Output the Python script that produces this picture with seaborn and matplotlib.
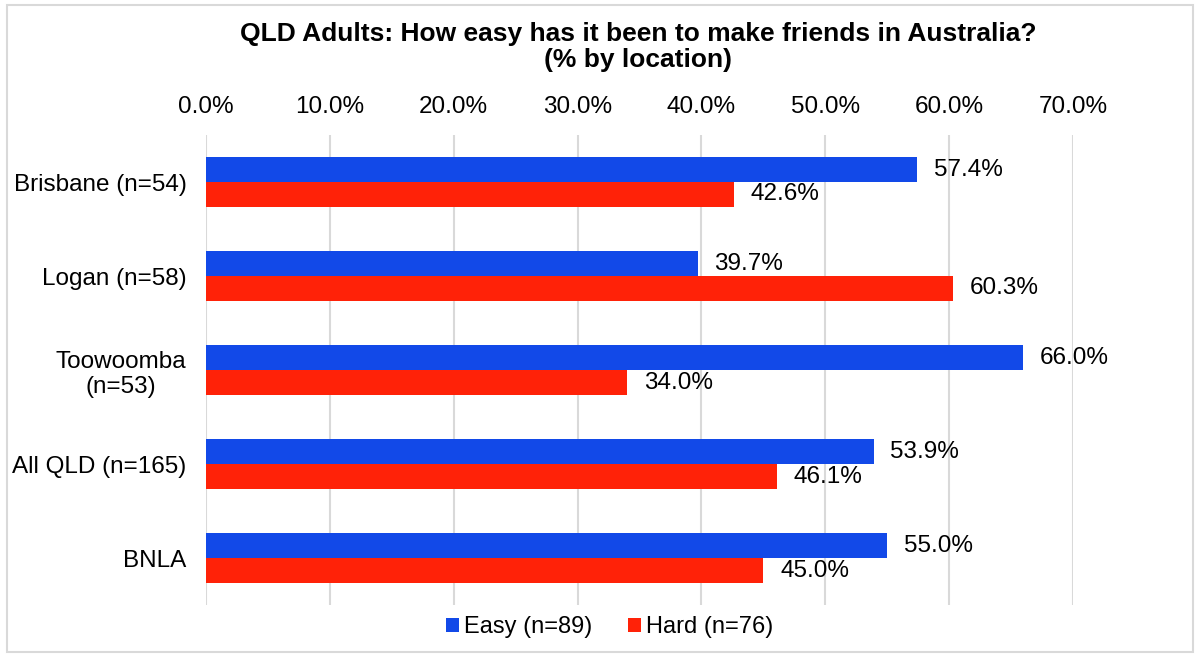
import pandas as pd
import numpy as np
import matplotlib
matplotlib.use("Agg")
import matplotlib.pyplot as plt
import seaborn as sns
from matplotlib.patches import Rectangle
from matplotlib.ticker import FuncFormatter

# Data
locations = ['Brisbane (n=54)', 'Logan (n=58)', 'Toowoomba\n(n=53)', 'All QLD (n=165)', 'BNLA']
easy = [57.4, 39.7, 66.0, 53.9, 55.0]
hard = [42.6, 60.3, 34.0, 46.1, 45.0]
series_names = ['Easy (n=89)', 'Hard (n=76)']
colors = ['#1249E8', '#FF2208']

# Long-form table for seaborn
df = pd.DataFrame({
    'location': locations * 2,
    'response': [series_names[0]] * len(locations) + [series_names[1]] * len(locations),
    'value': easy + hard,
})

sns.set_style('white')
plt.rcParams['font.family'] = ['Liberation Sans', 'DejaVu Sans']
plt.rcParams['text.color'] = 'black'
plt.rcParams['xtick.color'] = 'black'
plt.rcParams['ytick.color'] = 'black'

fig = plt.figure(figsize=(12, 6.57), dpi=100)
ax = fig.add_axes([0.1717, 0.079, 0.7225, 0.7155])

sns.barplot(data=df, x='value', y='location', hue='response', orient='h',
            palette=colors, width=0.53, order=locations, hue_order=series_names,
            ax=ax, saturation=1, edgecolor='none')

ax.set_xlim(0, 70)
ax.set_xticks(np.arange(0, 71, 10))
ax.xaxis.set_major_formatter(FuncFormatter(lambda v, p: f'{v:.1f}%'))
ax.xaxis.tick_top()
ax.tick_params(axis='x', length=0, labelsize=17.5, pad=12)
ax.tick_params(axis='y', length=0, labelsize=17.5, pad=14)
for lbl in ax.get_yticklabels():
    lbl.set_multialignment('center')
ax.grid(axis='x', color='#D9D9D9', linewidth=1.5)
ax.set_axisbelow(True)
for s in ax.spines.values():
    s.set_visible(False)
ax.set_xlabel('')
ax.set_ylabel('')

# value labels
for cont in ax.containers:
    ax.bar_label(cont, labels=[f'{v:.1f}%' for v in cont.datavalues],
                 padding=12, fontsize=17.5)

# legend at bottom
handles, labels = ax.get_legend_handles_labels()
ax.legend_.remove()
fig.legend(handles, labels, loc='center', bbox_to_anchor=(0.508, 0.045), ncol=2,
           frameon=False, fontsize=17, handlelength=0.55, handleheight=0.55,
           handletextpad=0.2, columnspacing=1.5)

# title is centred over the plot area
fig.suptitle('QLD Adults: How easy has it been to make friends in Australia?\n(% by location)',
             x=0.532, fontsize=19, fontweight='bold', y=0.966, linespacing=1.08)

# light border around the chart
fig.patches.append(Rectangle((0.006, 0.008), 0.988, 0.984, transform=fig.transFigure,
                             fill=False, edgecolor='#D9D9D9', linewidth=1.5))

fig.savefig('out.png', dpi=100)
